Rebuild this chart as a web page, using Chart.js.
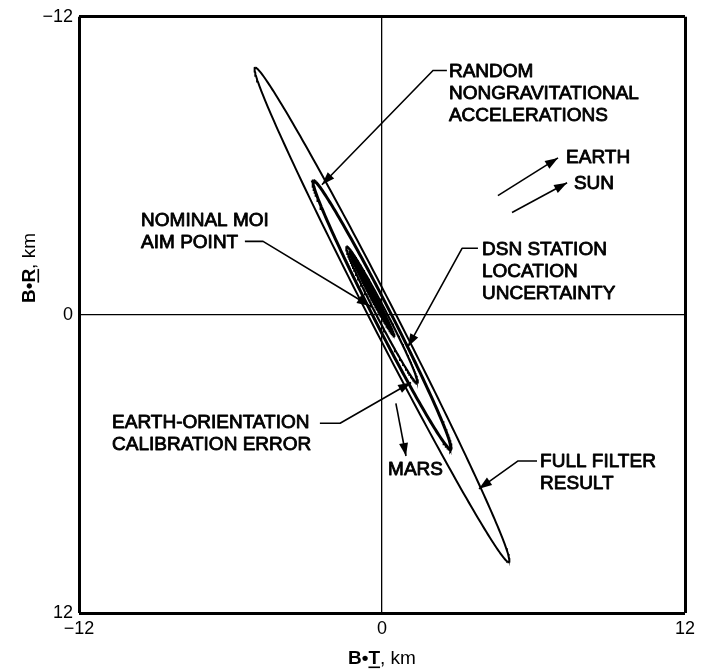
<!DOCTYPE html>
<html>
<head>
<meta charset="utf-8">
<script src="https://cdn.jsdelivr.net/npm/chart.js@4.4.1/dist/chart.umd.min.js"></script>
<style>
  html, body { margin: 0; padding: 0; background: #fff; }
  canvas { display: block; }
</style>
</head>
<body>
<canvas id="bplane" width="705" height="671"></canvas>
<script>
// B-plane error ellipses (km): centre, semi-axes and orientation of the major axis
const ellipseNames   = ['FULL FILTER RESULT', 'RANDOM NONGRAVITATIONAL ACCELERATIONS',
                        'EARTH-ORIENTATION CALIBRATION ERROR', 'DSN STATION LOCATION UNCERTAINTY'];
const centerT        = [0, 0, 0, -0.40];
const centerR        = [0, 0, 0, -0.84];
const semiMajor      = [11.15, 6.05, 3.10, 1.95];
const semiMinor      = [0.50, 0.34, 0.20, 0.12];
const orientationDeg = [63.2, 63.3, 63.0, 62.5];

// nominal aim point
const aimT = [0];
const aimR = [0];

// axis ticks
const tickValues = [-12, 0, 12];
const tickLabels = ['\u221212', '0', '12'];

// drawing style per ellipse
const ellipseStyle = [
  { width: 2.0, filled: false },
  { width: 3.0, filled: false },
  { width: 2.2, filled: false },
  { width: 1.5, filled: true }
];

const FONT = '"Liberation Sans", Arial, Helvetica, sans-serif';

function ellipseOutline(i) {
  const th = orientationDeg[i] * Math.PI / 180;
  const c = Math.cos(th), s = Math.sin(th);
  const pts = [];
  const n = 240;
  for (let k = 0; k <= n; k++) {
    const t = 2 * Math.PI * k / n;
    const u = semiMajor[i] * Math.cos(t);
    const v = semiMinor[i] * Math.sin(t);
    pts.push({ x: centerT[i] + u * c - v * s, y: centerR[i] + u * s + v * c });
  }
  return pts;
}

const datasets = ellipseNames.map((name, i) => ({
  label: name,
  data: ellipseOutline(i),
  showLine: true,
  borderColor: '#000',
  borderWidth: ellipseStyle[i].width,
  backgroundColor: '#000',
  fill: ellipseStyle[i].filled ? 'shape' : false,
  pointRadius: 0,
  tension: 0
}));
datasets.push({
  label: 'NOMINAL MOI AIM POINT',
  data: aimT.map((t, i) => ({ x: t, y: aimR[i] })),
  pointRadius: 2.5,
  pointBackgroundColor: '#000',
  pointBorderWidth: 0,
  showLine: false
});

// callouts: text (first line anchor in km) and leader path ending in an arrowhead
const callouts = [
  { lines: ['RANDOM', 'NONGRAVITATIONAL', 'ACCELERATIONS'], at: [2.65, -9.80],
    path: [[2.57, -9.84], [2.02, -9.84], [-2.38, -5.24]] },
  { lines: ['EARTH'], at: [7.29, -6.32], path: [[4.59, -4.80], [6.97, -6.32]] },
  { lines: ['SUN'],   at: [7.60, -5.28], path: [[5.15, -4.12], [7.33, -5.32]] },
  { lines: ['DSN STATION', 'LOCATION', 'UNCERTAINTY'], at: [3.96, -2.64],
    path: [[3.80, -2.68], [3.17, -2.68], [1.03, 1.28]] },
  { lines: ['NOMINAL MOI', 'AIM POINT'], at: [-9.54, -3.80],
    path: [[-5.43, -2.96], [-4.71, -2.96], [-0.48, -0.36]] },
  { lines: ['EARTH-ORIENTATION', 'CALIBRATION ERROR'], at: [-10.69, 4.36],
    path: [[-2.46, 4.36], [-1.66, 4.36], [1.15, 2.72]] },
  { lines: ['MARS'], at: [0.24, 6.24], path: [[0.55, 3.56], [0.95, 5.68]] },
  { lines: ['FULL FILTER', 'RESULT'], at: [6.26, 5.92],
    path: [[6.14, 5.88], [5.39, 5.88], [3.84, 7.00]] }
];

function arrowHead(ctx, x0, y0, x1, y1) {
  const ang = Math.atan2(y1 - y0, x1 - x0);
  const len = 13, half = 4.5;
  ctx.beginPath();
  ctx.moveTo(x1, y1);
  ctx.lineTo(x1 - len * Math.cos(ang) + half * Math.sin(ang), y1 - len * Math.sin(ang) - half * Math.cos(ang));
  ctx.lineTo(x1 - len * Math.cos(ang) - half * Math.sin(ang), y1 - len * Math.sin(ang) + half * Math.cos(ang));
  ctx.closePath();
  ctx.fill();
}

function drawRichTitle(ctx, parts, cx, cy, angle) {
  ctx.save();
  ctx.translate(cx, cy);
  ctx.rotate(angle);
  ctx.textBaseline = 'alphabetic';
  ctx.textAlign = 'left';
  let total = 0;
  parts.forEach(p => {
    ctx.font = (p.bold ? 'bold ' : '') + '19px ' + FONT;
    p.w = ctx.measureText(p.text).width;
    total += p.w;
  });
  let x = -total / 2;
  const base = 7;
  parts.forEach(p => {
    ctx.font = (p.bold ? 'bold ' : '') + '19px ' + FONT;
    ctx.fillText(p.text, x, base);
    if (p.underline) ctx.fillRect(x, base + 2.5, p.w, 1.6);
    x += p.w;
  });
  ctx.restore();
}

const calloutPlugin = {
  id: 'callouts',
  afterDatasetsDraw(chart) {
    const ctx = chart.ctx;
    const sx = chart.scales.x, sy = chart.scales.y;
    const px = v => sx.getPixelForValue(v);
    const py = v => sy.getPixelForValue(v);
    ctx.save();
    ctx.fillStyle = '#000';
    ctx.strokeStyle = '#000';
    callouts.forEach(c => {
      // leader
      ctx.lineWidth = 1.6;
      ctx.beginPath();
      c.path.forEach((p, k) => {
        if (k === 0) ctx.moveTo(px(p[0]), py(p[1]));
        else ctx.lineTo(px(p[0]), py(p[1]));
      });
      ctx.stroke();
      const a = c.path[c.path.length - 2], b = c.path[c.path.length - 1];
      arrowHead(ctx, px(a[0]), py(a[1]), px(b[0]), py(b[1]));
      // text, slightly heavier than plain regular weight
      ctx.font = '19px ' + FONT;
      ctx.textBaseline = 'middle';
      ctx.textAlign = 'left';
      ctx.lineWidth = 0.85;
      ctx.lineJoin = 'round';
      c.lines.forEach((t, k) => {
        const x = px(c.at[0]), y = py(c.at[1]) + k * 22;
        ctx.fillText(t, x, y);
        ctx.strokeText(t, x, y);
      });
    });
    // axis titles
    const area = chart.chartArea;
    drawRichTitle(ctx, [{ text: 'B\u2022', bold: true }, { text: 'T', bold: true, underline: true },
                        { text: ', km', bold: false }], (area.left + area.right) / 2, area.bottom + 44, 0);
    drawRichTitle(ctx, [{ text: 'B\u2022', bold: true }, { text: 'R', bold: true, underline: true },
                        { text: ', km', bold: false }], area.left - 51, 268, -Math.PI / 2);
    ctx.restore();
  }
};

const axisCommon = {
  type: 'linear',
  min: -12,
  max: 12,
  afterBuildTicks: s => { s.ticks = tickValues.map(v => ({ value: v })); },
  ticks: {
    callback: v => tickLabels[tickValues.indexOf(v)],
    font: { family: FONT, size: 18 },
    color: '#000',
    autoSkip: false,
    maxRotation: 0
  },
  grid: {
    color: '#000',
    lineWidth: c => (c.tick && c.tick.value === 0 ? 1.3 : 3),
    drawTicks: false
  },
  border: { display: false }
};

new Chart(document.getElementById('bplane'), {
  type: 'scatter',
  data: { datasets },
  options: {
    responsive: false,
    animation: false,
    devicePixelRatio: 1,
    events: [],
    layout: { padding: { top: 13, right: 20, left: 0, bottom: 0 } },
    plugins: { legend: { display: false }, tooltip: { enabled: false } },
    scales: {
      x: Object.assign({}, axisCommon, {
        ticks: Object.assign({}, axisCommon.ticks, { padding: 5 }),
        afterFit: s => { s.height = 58; }
      }),
      y: Object.assign({}, axisCommon, {
        reverse: true,
        ticks: Object.assign({}, axisCommon.ticks, { padding: 6 }),
        afterFit: s => { s.width = 79; }
      })
    }
  },
  plugins: [calloutPlugin]
});
</script>
</body>
</html>
